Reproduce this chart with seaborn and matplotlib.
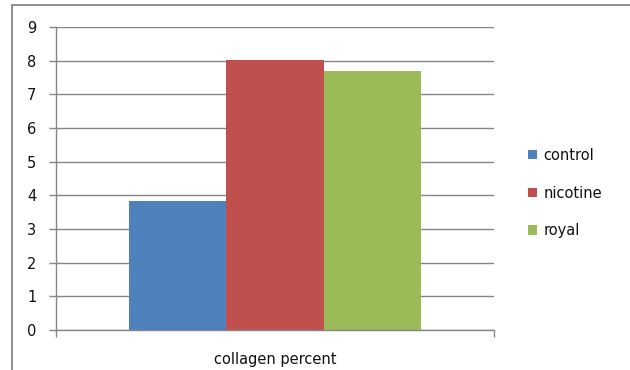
import matplotlib
matplotlib.use("Agg")
import matplotlib.pyplot as plt
import seaborn as sns
import pandas as pd
from matplotlib.patches import Rectangle

categories = ["collagen percent"]
series = ["control", "nicotine", "royal"]
values = [3.83, 8.02, 7.70]
colors = ["#4F81BD", "#C0504D", "#9BBB59"]

df = pd.DataFrame({
    "category": categories * len(series),
    "series": series,
    "value": values,
})

sns.set_style("white")
plt.rcParams["font.family"] = ["DejaVu Sans"]

fig = plt.figure(figsize=(6.3, 3.7), dpi=100)
ax = fig.add_axes([56 / 630, 1 - 330 / 370, (494 - 56) / 630, (330 - 27) / 370])

sns.barplot(data=df, x="category", y="value", hue="series", palette=colors,
            width=0.667, gap=0, saturation=1, ax=ax, linewidth=0)

grey = "#868686"
text_color = "#111111"
fs = 10.5
ax.set_ylim(0, 9)
ax.set_xlim(-0.5, 0.5)
ax.set_yticks(range(0, 10))
ax.yaxis.grid(True, color=grey, linewidth=1)
ax.set_axisbelow(True)
for side in ["top", "right"]:
    ax.spines[side].set_visible(False)
for side in ["left", "bottom"]:
    ax.spines[side].set_color(grey)
    ax.spines[side].set_linewidth(1)

ax.tick_params(axis="y", left=True, length=5, width=1, color=grey,
               labelsize=fs, pad=9, labelcolor=text_color)
ax.set_xticks([-0.5, 0.5], minor=True)
ax.tick_params(axis="x", which="minor", bottom=True, length=5, width=1, color=grey)
ax.tick_params(axis="x", which="major", bottom=False, labelsize=fs, pad=12,
               labelcolor=text_color)
ax.set_xlabel("")
ax.set_ylabel("")

handles, labels = ax.get_legend_handles_labels()
ax.legend(handles, labels, loc="center left", bbox_to_anchor=(515 / 630, 1 - 193 / 370),
          bbox_transform=fig.transFigure, frameon=False, fontsize=fs,
          handlelength=0.62, handleheight=0.62, handletextpad=0.45, labelspacing=1.55,
          labelcolor=text_color)

fig.patches.append(Rectangle((12 / 630, -0.1), 1.0, 1.1 - 5.5 / 370,
                             transform=fig.transFigure, fill=False,
                             edgecolor=grey, linewidth=1.3))

fig.savefig("out.png", dpi=100)
